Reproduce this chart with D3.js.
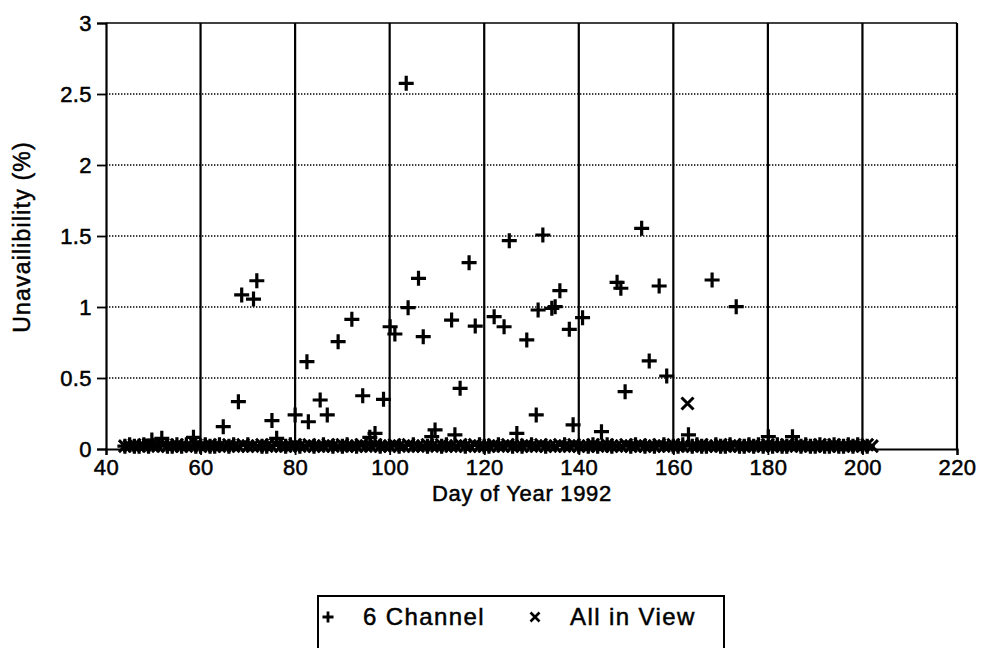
<!DOCTYPE html>
<html><head><meta charset="utf-8">
<script src="https://cdn.jsdelivr.net/npm/d3@7/dist/d3.min.js"></script>
<style>
html,body{margin:0;padding:0;background:#fff;}
svg text{font-family:"Liberation Sans",Arial,Helvetica,sans-serif;fill:#000;stroke:#000;stroke-width:0.5px;}
</style></head>
<body><svg id="chart" width="983" height="648"></svg>
<script>
// ---- data ----
const xTicks = [40, 60, 80, 100, 120, 140, 160, 180, 200, 220];
const yTicks = [0, 0.5, 1, 1.5, 2, 2.5, 3];
const yTickLabels = ["0", "0.5", "1", "1.5", "2", "2.5", "3"];
const seriesNames = ["6 Channel", "All in View"];

// 6 Channel: raised points
const sixDays = [49.7,51.8,58.5,64.8,68.0,68.7,71.2,71.9,75.1,76.1,
  80.0,82.5,82.8,85.3,86.8,89.1,92.0,94.3,95.8,96.9,
  98.7,100.1,101.1,103.5,103.9,106.1,107.1,108.9,109.6,113.1,
  113.8,114.9,116.8,118.1,122.1,124.2,125.3,126.9,129.0,131.0,
  131.4,132.4,134.3,135.0,136.0,138.0,138.8,140.8,144.8,148.1,
  148.9,149.8,153.3,154.9,157.0,158.6,163.2,168.2,173.3,180.1,
  185.2];
const sixValues = [0.063,0.075,0.082,0.157,0.333,1.085,1.056,1.185,0.2,0.075,
  0.24,0.615,0.192,0.345,0.24,0.756,0.913,0.375,0.082,0.11,
  0.35,0.861,0.81,2.575,0.995,1.202,0.791,0.087,0.134,0.908,
  0.1,0.427,1.312,0.866,0.932,0.861,1.467,0.11,0.768,0.24,
  0.979,1.507,0.991,1.002,1.115,0.843,0.17,0.925,0.122,1.174,
  1.132,0.404,1.554,0.62,1.148,0.514,0.1,1.19,1.002,0.087,
  0.087];
// 6 Channel: near-zero days
const sixBaseDays = [44,45,46,47,48,49,51,53,54,55,
  56,57,59,60,61,62,63,64,66,67,
  70,73,74,77,78,79,81,84,86,88,
  90,91,93,95,98,102,105,108,111,112,
  116,119,120,121,123,126,128,130,133,137,
  140,142,143,144,146,147,151,152,154,156,
  158,160,161,162,164,165,166,167,169,170,
  171,172,174,175,176,177,178,179,181,182,
  183,184,186,187,188,189,190,191,192,193,
  194,195,196,197,198,199,200,201];
const sixBaseValues = [0.02,0.03,0.02,0.02,0.03,0.02,0.03,0.02,0.02,0.03,
  0.02,0.03,0.02,0.02,0.03,0.02,0.02,0.03,0.02,0.03,
  0.03,0.02,0.02,0.03,0.02,0.03,0.02,0.02,0.03,0.02,
  0.02,0.03,0.02,0.03,0.02,0.02,0.03,0.02,0.02,0.03,
  0.02,0.03,0.02,0.02,0.03,0.02,0.02,0.03,0.02,0.03,
  0.02,0.02,0.03,0.02,0.03,0.02,0.02,0.03,0.02,0.02,
  0.03,0.02,0.02,0.03,0.02,0.03,0.02,0.02,0.03,0.02,
  0.02,0.03,0.02,0.02,0.03,0.02,0.03,0.02,0.02,0.03,
  0.02,0.02,0.03,0.02,0.03,0.02,0.02,0.03,0.02,0.02,
  0.03,0.02,0.02,0.03,0.02,0.03,0.02,0.02];
// All in View
const allDays = [44,45,46,47,48,49,50,51,52,53,
  54,55,56,57,58,59,60,61,62,63,
  64,65,66,67,68,69,70,71,72,73,
  74,75,76,77,78,79,80,81,82,83,
  84,85,86,87,88,89,90,91,92,93,
  94,95,96,97,98,99,100,101,102,103,
  104,105,106,107,108,109,110,111,112,113,
  114,115,116,117,118,119,120,121,122,123,
  124,125,126,127,128,129,130,131,132,133,
  134,135,136,137,138,139,140,141,142,143,
  144,145,146,147,148,149,150,151,152,153,
  154,155,156,157,158,159,160,161,162,163,
  164,165,166,167,168,169,170,171,172,173,
  174,175,176,177,178,179,180,181,182,183,
  184,185,186,187,188,189,190,191,192,193,
  194,195,196,197,198,199,200,201,202];
const allValues = [0.02,0.02,0.03,0.02,0.02,0.03,0.02,0.02,0.03,0.02,
  0.02,0.03,0.02,0.02,0.02,0.03,0.02,0.02,0.03,0.02,
  0.02,0.02,0.03,0.02,0.02,0.03,0.02,0.02,0.02,0.03,
  0.02,0.02,0.03,0.02,0.02,0.02,0.03,0.02,0.02,0.03,
  0.02,0.02,0.02,0.03,0.02,0.02,0.03,0.02,0.02,0.02,
  0.03,0.02,0.02,0.03,0.02,0.02,0.02,0.03,0.02,0.02,
  0.03,0.02,0.02,0.02,0.03,0.02,0.02,0.03,0.02,0.02,
  0.02,0.03,0.02,0.02,0.03,0.02,0.02,0.02,0.03,0.02,
  0.02,0.03,0.02,0.02,0.02,0.03,0.02,0.02,0.03,0.02,
  0.02,0.02,0.03,0.02,0.02,0.03,0.02,0.02,0.02,0.03,
  0.02,0.02,0.03,0.02,0.02,0.02,0.03,0.02,0.02,0.03,
  0.02,0.02,0.02,0.03,0.02,0.02,0.03,0.02,0.02,0.32,
  0.02,0.02,0.03,0.02,0.02,0.02,0.03,0.02,0.02,0.03,
  0.02,0.02,0.02,0.03,0.02,0.02,0.03,0.02,0.02,0.02,
  0.03,0.02,0.02,0.03,0.02,0.02,0.02,0.03,0.02,0.02,
  0.03,0.02,0.02,0.02,0.03,0.02,0.02,0.03,0.02];

// ---- drawing ----
const svg = d3.select("#chart");
const x = d3.scaleLinear().domain([40, 220]).range([106, 957]);
const y = d3.scaleLinear().domain([0, 3]).range([449, 23]);

// horizontal dotted gridlines
svg.append("g").selectAll("line").data(yTicks.filter(v => v > 0 && v < 3)).join("line")
  .attr("x1", x(40)).attr("x2", x(220))
  .attr("y1", d => y(d)).attr("y2", d => y(d))
  .attr("stroke", "#000").attr("stroke-width", 1.3).attr("stroke-dasharray", "1.4,1.6");
// top frame line
svg.append("line").attr("x1", x(40)).attr("x2", x(220)).attr("y1", y(3)).attr("y2", y(3))
  .attr("stroke", "#000").attr("stroke-width", 1.3);
// vertical solid gridlines
svg.append("g").selectAll("line").data(xTicks.filter(v => v > 40)).join("line")
  .attr("x1", d => x(d)).attr("x2", d => x(d))
  .attr("y1", y(3)).attr("y2", y(0))
  .attr("stroke", "#000").attr("stroke-width", 2.2);

// axes
const yAxis = svg.append("g").attr("transform", `translate(${x(40)},0)`)
  .call(d3.axisLeft(y).tickValues(yTicks).tickFormat((d, i) => yTickLabels[i]).tickSize(9).tickPadding(5));
const xAxis = svg.append("g").attr("transform", `translate(0,${y(0)})`)
  .call(d3.axisBottom(x).tickValues(xTicks).tickFormat(d3.format("d")).tickSize(6).tickPadding(4));
[yAxis, xAxis].forEach(a => {
  a.select(".domain").attr("stroke", "#000").attr("stroke-width", 2.2);
  a.selectAll(".tick line").attr("stroke", "#000").attr("stroke-width", 1.8);
  a.selectAll("text").attr("font-size", 22).attr("fill", "#000").attr("letter-spacing", "0.4px")
    .style("font-family", '"Liberation Sans", Arial, sans-serif');
});

// markers
function plus(sel, s, w) {
  sel.append("path").attr("d", `M${-s},0H${s}M0,${-s}V${s}`)
    .attr("stroke", "#000").attr("stroke-width", w).attr("fill", "none");
}
function cross(sel, s, w) {
  sel.append("path").attr("d", `M${-s},${-s}L${s},${s}M${-s},${s}L${s},${-s}`)
    .attr("stroke", "#000").attr("stroke-width", w).attr("fill", "none");
}
const allPts = allDays.map((d, i) => ({d, v: allValues[i]}));
const sixPts = sixBaseDays.map((d, i) => ({d, v: sixBaseValues[i]}))
  .concat(sixDays.map((d, i) => ({d, v: sixValues[i]})));

svg.append("g").selectAll("g").data(allPts).join("g")
  .attr("transform", p => `translate(${x(p.d)},${y(p.v)})`)
  .each(function() { cross(d3.select(this), 6, 3); });
svg.append("g").selectAll("g").data(sixPts).join("g")
  .attr("transform", p => `translate(${x(p.d)},${y(p.v)})`)
  .each(function() { plus(d3.select(this), 7.5, 3.2); });

// axis titles
svg.append("text").attr("x", 522).attr("y", 501).attr("text-anchor", "middle")
  .attr("font-size", 22).attr("letter-spacing", "0.7px").text("Day of Year 1992");
svg.append("text").attr("transform", "translate(30,237) rotate(-90)").attr("text-anchor", "middle")
  .attr("font-size", 23).attr("letter-spacing", "1.2px").text("Unavailibility (%)");

// legend
const lg = svg.append("g");
lg.append("rect").attr("x", 318).attr("y", 596).attr("width", 406).attr("height", 70)
  .attr("fill", "none").attr("stroke", "#000").attr("stroke-width", 2);
const l1 = lg.append("g").attr("transform", "translate(328,617)"); plus(l1, 5.5, 2.8);
lg.append("text").attr("x", 363).attr("y", 625).attr("font-size", 24).attr("letter-spacing", "1.4px").text(seriesNames[0]);
const l2 = lg.append("g").attr("transform", "translate(535,617)"); cross(l2, 4.5, 2.6);
lg.append("text").attr("x", 570).attr("y", 625).attr("font-size", 24).attr("letter-spacing", "1.4px").text(seriesNames[1]);
</script></body></html>
